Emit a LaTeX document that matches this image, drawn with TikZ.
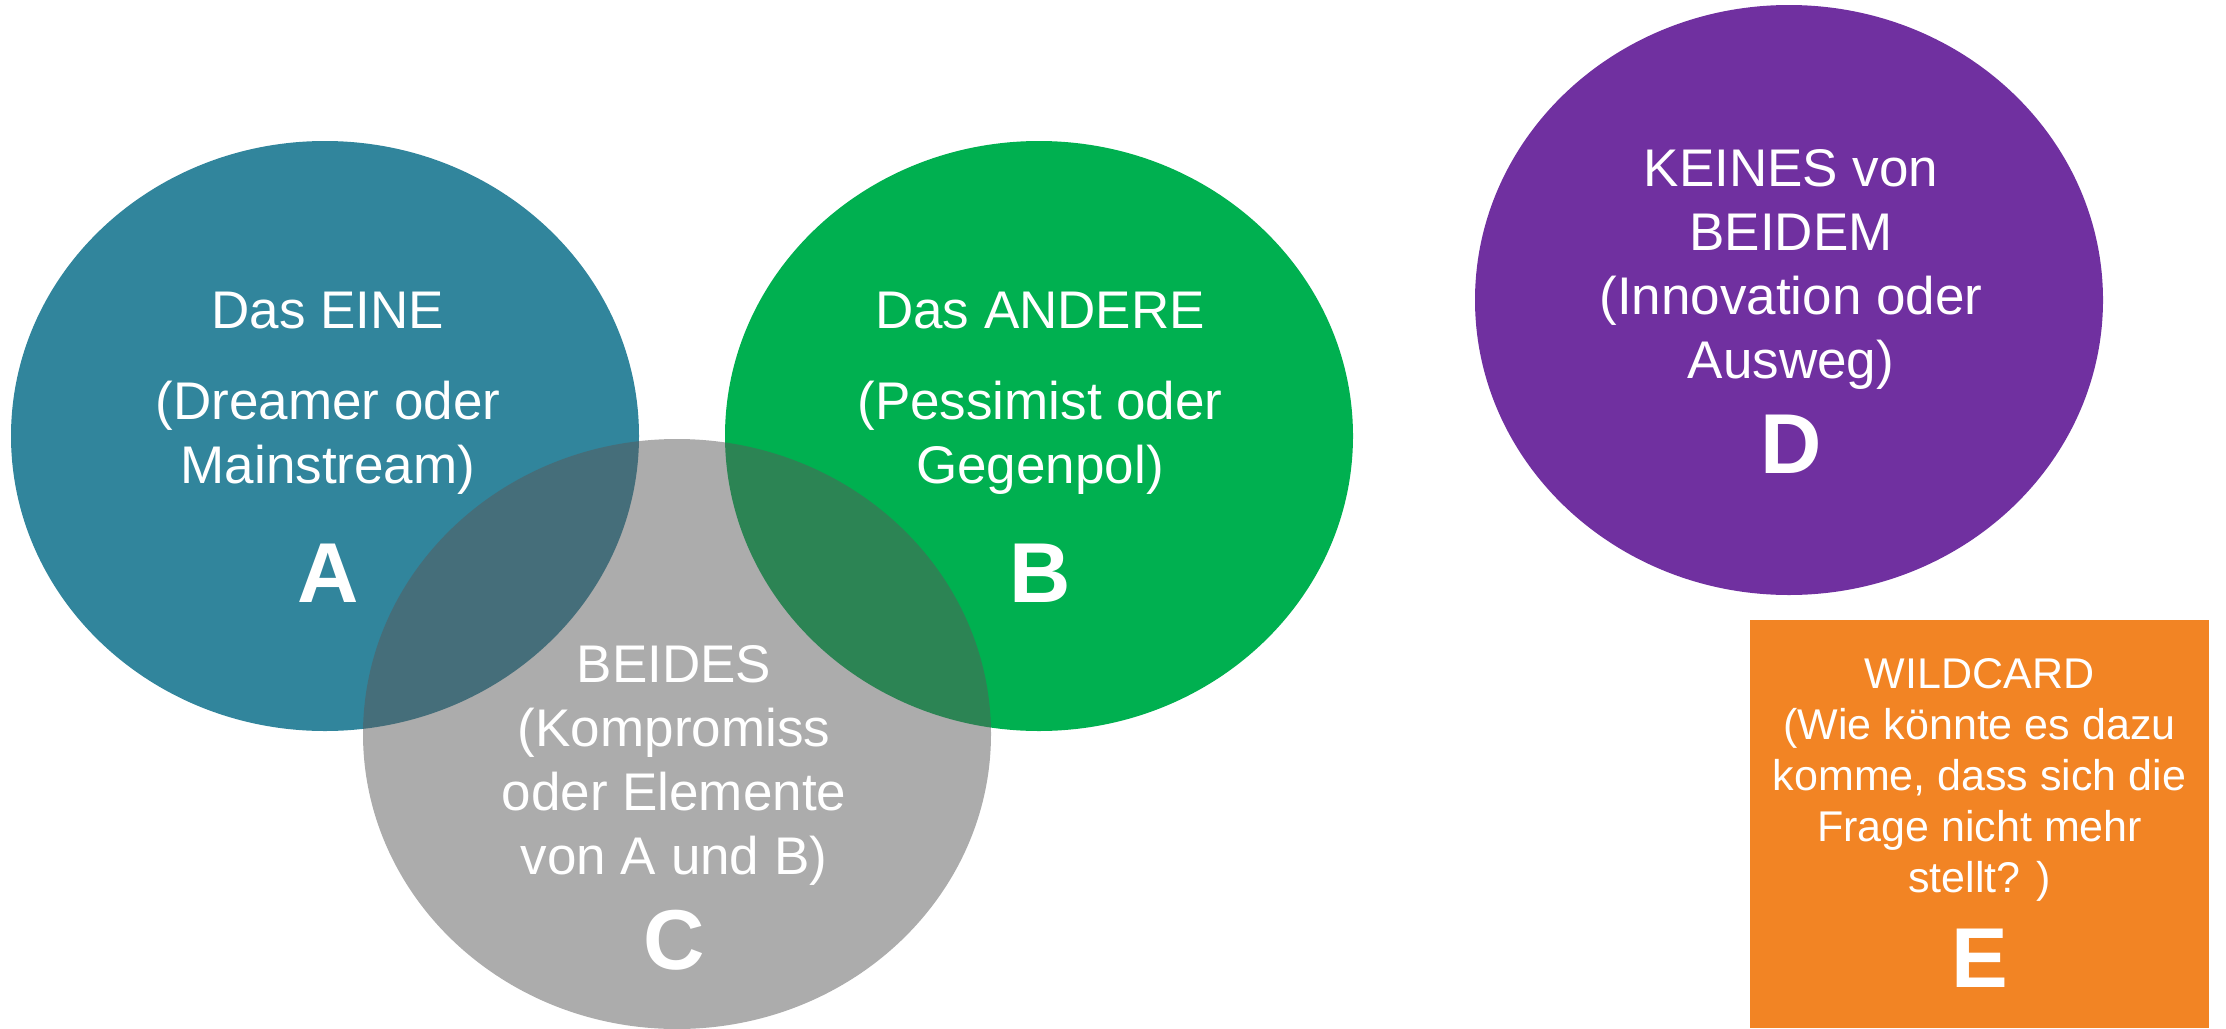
\documentclass[tikz,border=0pt]{standalone}
\usepackage{fontspec}
\setmainfont{Liberation Sans}
\usetikzlibrary{shapes.geometric}

\definecolor{einecol}{HTML}{31859C}
\definecolor{anderecol}{HTML}{00B050}
\definecolor{beidescol}{HTML}{595959}
\definecolor{keinescol}{HTML}{7030A0}
\definecolor{wildcol}{HTML}{F28424}

\tikzset{
  blob/.style={ellipse, inner sep=0pt, minimum width=628pt, minimum height=590pt},
  txt/.style={text=white, align=center, inner sep=0pt, font=\fontsize{53}{64}\selectfont},
  smalltxt/.style={text=white, align=center, inner sep=0pt, font=\fontsize{43}{51}\selectfont},
  letter/.style={text=white, inner sep=0pt, font=\fontsize{85}{100}\selectfont\bfseries},
}

\begin{document}
\begin{tikzpicture}[x=1pt,y=-1pt]
\useasboundingbox (0,0) rectangle (2226,1028);
% THE TWO POLES
\node [blob,fill=einecol] (eine) at (325,436) {};
\node [blob,fill=anderecol] (andere) at (1039,436) {};
% BOTH: HALF SEE-THROUGH OVER A AND B
\node [blob,fill=beidescol,fill opacity=0.5] (beides) at (677,734) {};
% NEITHER
\node [blob,fill=keinescol] (keines) at (1789,300) {};
% WILDCARD
\node [fill=wildcol,inner sep=0pt,minimum width=459pt,minimum height=408pt] (wild) at (1979.5,824) {};
% TEXTS
\node [txt,anchor=north] (einetext) at (328,292) {Das EINE\\[27pt](Dreamer oder\\Mainstream)};
\node [txt,anchor=north] (anderetext) at (1040,292) {Das ANDERE\\[27pt](Pessimist oder\\Gegenpol)};
\node [txt,anchor=north] (beidestext) at (674,645) {BEIDES\\(Kompromiss\\oder Elemente\\von A und B)};
\node [txt,anchor=north] (keinestext) at (1791,149) {KEINES von\\BEIDEM\\(Innovation oder\\Ausweg)};
\node [smalltxt,anchor=north] (wildtext) at (1979.5,658) {WILDCARD\\(Wie könnte es dazu\\komme, dass sich die\\Frage nicht mehr\\stellt? )};
% LETTERS
\node [letter] (la) at (328,573) {A};
\node [letter] (lb) at (1040,573) {B};
\node [letter] (lc) at (674,940) {C};
\node [letter] (ld) at (1791,444) {D};
\node [letter] (le) at (1980,958) {E};
\end{tikzpicture}
\end{document}
